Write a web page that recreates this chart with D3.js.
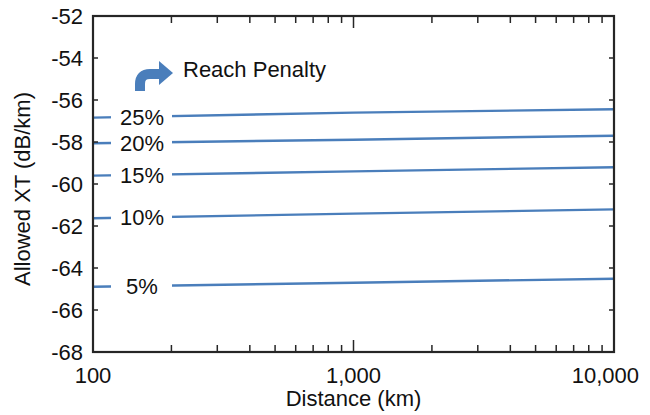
<!DOCTYPE html>
<html lang="en">
<head>
	<meta charset="UTF-8"/>
	<title>Allowed XT vs Distance</title>
	<script src="https://d3js.org/d3.v7.min.js"></script>
	<style>
		body { margin: 0; background: #fff; }
		text { font-family: "Liberation Sans", Arial, sans-serif; fill: #111; }
	</style>
</head>
<body>
	<div id="chart-container"></div>

	<script>
	var w = 650;
	var h = 415;
	var margin = {top: 16, right: 36, bottom: 63, left: 93};

	// data
	var distances = [100, 1000, 10000];
	var penalties = ["25%", "20%", "15%", "10%", "5%"];
	var xt25 = [-56.84, -56.60, -56.44];
	var xt20 = [-58.06, -57.89, -57.70];
	var xt15 = [-59.60, -59.40, -59.20];
	var xt10 = [-61.63, -61.41, -61.21];
	var xt5  = [-64.89, -64.70, -64.51];
	var series = [xt25, xt20, xt15, xt10, xt5];

	var xMajor = [100, 1000, 10000];
	var xMinor = [200, 300, 400, 500, 600, 700, 800, 900, 2000, 3000, 4000, 5000, 6000, 7000, 8000, 9000];
	var yTicks = [-52, -54, -56, -58, -60, -62, -64, -66, -68];

	var lineColor = "#4a7ebb";
	var axisColor = "#262626";
	var fontSize = "22px";

	var iw = w - margin.left - margin.right;
	var ih = h - margin.top - margin.bottom;

	var xScale = d3.scaleLog()
		.domain([100, 10000])
		.range([0, iw]);

	var yScale = d3.scaleLinear()
		.domain([-68, -52])
		.range([ih, 0]);

	var svg = d3.select("#chart-container")
		.append("svg")
		.attr("width", w)
		.attr("height", h);

	var g = svg.append("g")
		.attr("transform", "translate(" + margin.left + "," + margin.top + ")");

	// lines
	var line = d3.line()
		.x(function (d, i) { return xScale(distances[i]); })
		.y(function (d) { return yScale(d); });

	g.selectAll(".series")
		.data(series)
		.enter()
		.append("path")
		.attr("class", "series")
		.attr("d", line)
		.attr("fill", "none")
		.attr("stroke", lineColor)
		.attr("stroke-width", 2.4);

	// labels sit on the lines, with a white patch behind
	var labelX = 142 - margin.left;
	series.forEach(function (s, i) {
		var y0 = yScale(s[0]) + (yScale(s[1]) - yScale(s[0])) * (labelX / (iw / 2));
		g.append("rect")
			.attr("x", 111 - margin.left)
			.attr("y", y0 - 8)
			.attr("width", 61)
			.attr("height", 16)
			.attr("fill", "#fff");
		g.append("text")
			.text(penalties[i])
			.attr("x", labelX)
			.attr("y", y0)
			.attr("dy", "0.36em")
			.attr("text-anchor", "middle")
			.attr("font-size", fontSize);
	});

	// frame
	g.append("rect")
		.attr("x", 0)
		.attr("y", 0)
		.attr("width", iw)
		.attr("height", ih)
		.attr("fill", "none")
		.attr("stroke", axisColor)
		.attr("stroke-width", 2.2);

	// y ticks, inward on both sides
	g.selectAll(".ytick-l")
		.data(yTicks)
		.enter()
		.append("line")
		.attr("x1", 0).attr("x2", 5)
		.attr("y1", function (d) { return yScale(d); })
		.attr("y2", function (d) { return yScale(d); })
		.attr("stroke", axisColor)
		.attr("stroke-width", 1.5);

	g.selectAll(".ytick-r")
		.data(yTicks)
		.enter()
		.append("line")
		.attr("x1", iw - 5).attr("x2", iw)
		.attr("y1", function (d) { return yScale(d); })
		.attr("y2", function (d) { return yScale(d); })
		.attr("stroke", axisColor)
		.attr("stroke-width", 1.5);

	g.selectAll(".ylabel")
		.data(yTicks)
		.enter()
		.append("text")
		.text(function (d) { return d; })
		.attr("x", -10)
		.attr("y", function (d) { return yScale(d); })
		.attr("dy", "0.36em")
		.attr("text-anchor", "end")
		.attr("font-size", fontSize);

	// x ticks, inward at bottom and top
	var allX = xMinor.concat([1000]);
	g.selectAll(".xtick-b")
		.data(allX)
		.enter()
		.append("line")
		.attr("x1", function (d) { return xScale(d); })
		.attr("x2", function (d) { return xScale(d); })
		.attr("y1", ih)
		.attr("y2", function (d) { return d === 1000 ? ih - 12 : ih - 7; })
		.attr("stroke", axisColor)
		.attr("stroke-width", 1.5);

	g.selectAll(".xtick-t")
		.data(allX)
		.enter()
		.append("line")
		.attr("x1", function (d) { return xScale(d); })
		.attr("x2", function (d) { return xScale(d); })
		.attr("y1", 0)
		.attr("y2", function (d) { return d === 1000 ? 12 : 7; })
		.attr("stroke", axisColor)
		.attr("stroke-width", 1.5);

	// last label is pulled in so it fits the window
	g.selectAll(".xlabel")
		.data(xMajor)
		.enter()
		.append("text")
		.text(function (d) { return d3.format(",")(d); })
		.attr("x", function (d) { return d === 10000 ? w - margin.left - 11 : xScale(d); })
		.attr("y", ih + 31)
		.attr("text-anchor", function (d) { return d === 10000 ? "end" : "middle"; })
		.attr("font-size", fontSize);

	// axis titles
	svg.append("text")
		.text("Distance (km)")
		.attr("x", margin.left + iw / 2)
		.attr("y", 406)
		.attr("text-anchor", "middle")
		.attr("font-size", fontSize);

	svg.append("text")
		.text("Allowed XT (dB/km)")
		.attr("transform", "translate(30," + 189 + ") rotate(-90)")
		.attr("text-anchor", "middle")
		.attr("font-size", fontSize);

	// reach penalty marker
	svg.append("path")
		.attr("d", "M140,91 L140,84 Q140,74 150,74 L160,74")
		.attr("fill", "none")
		.attr("stroke", lineColor)
		.attr("stroke-width", 10);
	svg.append("path")
		.attr("d", "M159,61 L173,73 L159,85 Z")
		.attr("fill", lineColor);

	svg.append("text")
		.text("Reach Penalty")
		.attr("x", 183)
		.attr("y", 77)
		.attr("font-size", fontSize);
	</script>
</body>
</html>
